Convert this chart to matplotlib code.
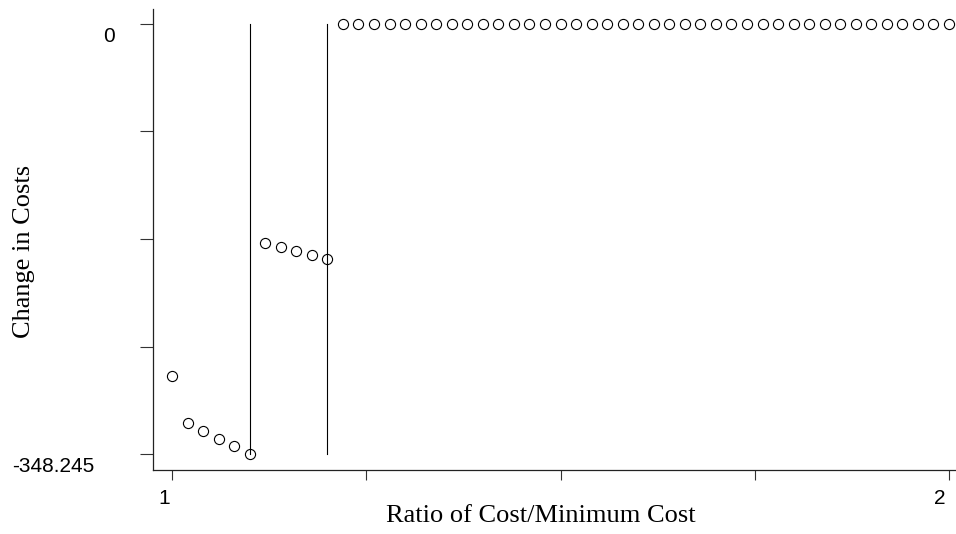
import matplotlib
matplotlib.use("Agg")
import matplotlib.pyplot as plt

# ratio of cost / minimum cost (grid of 0.02 steps)
ratio = [1.00, 1.02, 1.04, 1.06, 1.08, 1.10, 1.12, 1.14, 1.16, 1.18,
         1.20, 1.22, 1.24, 1.26, 1.28, 1.30, 1.32, 1.34, 1.36, 1.38,
         1.40, 1.42, 1.44, 1.46, 1.48, 1.50, 1.52, 1.54, 1.56, 1.58,
         1.60, 1.62, 1.64, 1.66, 1.68, 1.70, 1.72, 1.74, 1.76, 1.78,
         1.80, 1.82, 1.84, 1.86, 1.88, 1.90, 1.92, 1.94, 1.96, 1.98,
         2.00]
change = [-285.4, -323.1, -329.4, -335.9, -342.1, -348.245,
          -177.4, -180.6, -183.6, -187.1, -190.3,
          0, 0, 0, 0, 0, 0, 0, 0, 0, 0,
          0, 0, 0, 0, 0, 0, 0, 0, 0, 0,
          0, 0, 0, 0, 0, 0, 0, 0, 0, 0,
          0, 0, 0, 0, 0, 0, 0, 0, 0, 0]
breaks = [1.10, 1.20]
ymin = -348.245
xticks = [1, 1.25, 1.5, 1.75, 2]

SANS = "Liberation Sans"
SERIF = "Liberation Serif"

fig = plt.figure(figsize=(9.56, 5.34), dpi=100)
W, H = 956, 534
ax = fig.add_axes([153 / W, (H - 470) / H, (W - 153) / W, (470 - 9) / H])

ax.plot(ratio, change, linestyle="none", marker="o", markersize=7.3,
        markerfacecolor="none", markeredgecolor="black", markeredgewidth=0.8)
for b in breaks:
    ax.plot([b, b], [0, ymin], color="black", linewidth=0.8)

# axis limits from pixel geometry of the reference
xs = 777.0
ax.set_xlim(1 - 19 / xs, 2 + 7 / xs)
ys = 430.0 / 348.245
ax.set_ylim(ymin - 16 / ys, 15 / ys)

ax.set_xticks(xticks)
ax.set_yticks([ymin + i * (-ymin) / 4 for i in range(5)])
ax.set_xticklabels([])
ax.set_yticklabels([])
ax.tick_params(axis="y", length=9.4, width=0.8, color="#333333")
ax.tick_params(axis="x", length=7.2, width=0.8, color="#333333")

for s in ["top", "right"]:
    ax.spines[s].set_visible(False)
for s in ["left", "bottom"]:
    ax.spines[s].set_linewidth(0.9)
    ax.spines[s].set_color("#222222")

ytr = ax.get_yaxis_transform()
xtr = ax.get_xaxis_transform()
ax.annotate("0", xy=(0, 0), xycoords=ytr, xytext=(-44, -12),
            textcoords="offset pixels", ha="center", va="center",
            fontsize=15, family=SANS)
ax.annotate("-348.245", xy=(0, ymin), xycoords=ytr, xytext=(-100, -12),
            textcoords="offset pixels", ha="center", va="center",
            fontsize=15, family=SANS)
ax.annotate("1", xy=(1, 0), xycoords=xtr, xytext=(-8, -29),
            textcoords="offset pixels", ha="center", va="center",
            fontsize=15, family=SANS, annotation_clip=False)
ax.annotate("2", xy=(2, 0), xycoords=xtr, xytext=(-9, -29),
            textcoords="offset pixels", ha="center", va="center",
            fontsize=15, family=SANS, annotation_clip=False)

fig.text(541 / W, 1 - 516 / H, "Ratio of Cost/Minimum Cost",
         ha="center", va="center", fontsize=19, family=SERIF)
fig.text(24 / W, 1 - 251.5 / H, "Change in Costs", rotation=90,
         ha="center", va="center", fontsize=19, family=SERIF)

fig.savefig("out.png", dpi=100)
